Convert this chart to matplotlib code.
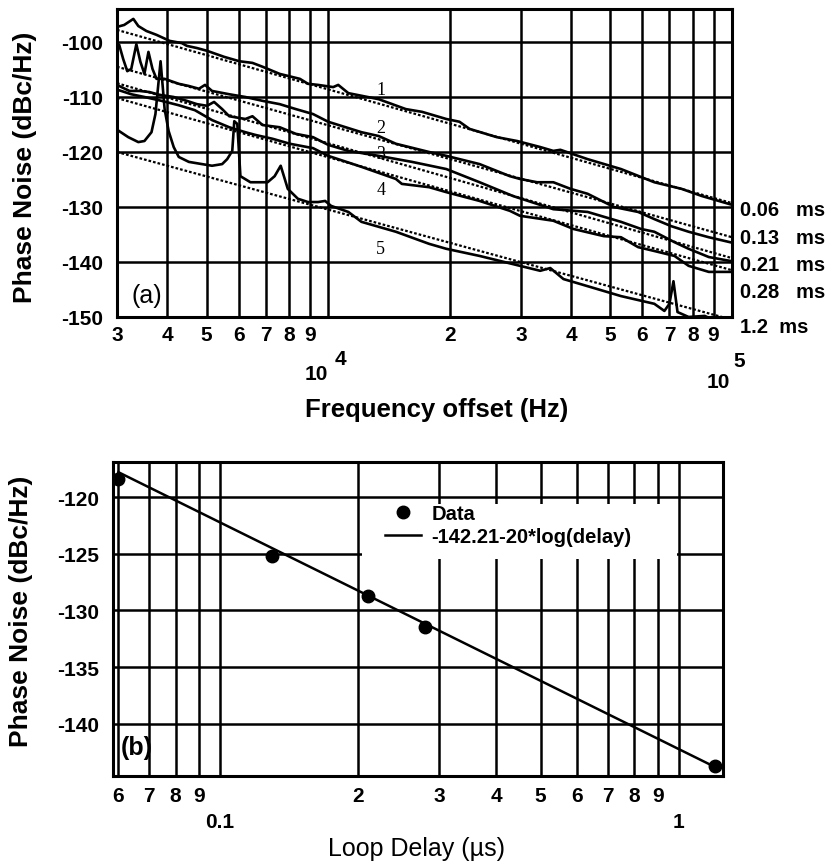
import matplotlib
matplotlib.use('Agg')
import matplotlib.pyplot as plt
from matplotlib.patches import Rectangle

c1_freq = [2985, 3126, 3293, 3388, 3548, 3758, 4051, 4341, 4467, 4732, 5012, 5527, 6026, 6494, 6879,
           7586, 8511, 8913, 9441, 10290, 10590, 11220, 13340, 15570, 17080, 19610, 21140, 22390,
           26150, 29350, 33500, 36100, 37580, 43900, 53090, 64200, 74990, 84140, 98860]
c1_db = [-97.3, -96.9, -95.8, -97.1, -98.0, -98.7, -99.8, -100.2, -100.7, -101.1, -101.6, -102.7,
         -103.5, -103.8, -104.5, -105.8, -106.7, -107.6, -107.8, -108.2, -107.8, -109.3, -110.4,
         -112.2, -112.7, -114.0, -114.5, -115.8, -117.3, -118.0, -119.1, -119.8, -119.6, -121.3,
         -123.1, -125.5, -126.7, -128.0, -129.5]

c2_freq = [2951, 3037, 3108, 3181, 3254, 3350, 3428, 3508, 3589, 3673, 3758, 3936, 4266, 4519, 4786,
           4955, 5158, 5689, 6237, 6879, 7586, 8318, 9173, 10000, 12090, 13340, 14710, 17780, 19610,
           23710, 28180, 29850, 32920, 36100, 39810, 43900, 51000, 58550, 64200, 70800, 78070,
           87600, 98860]
c2_db = [-103.1, -100.5, -103.1, -105.3, -104.9, -100.4, -103.6, -105.8, -101.8, -104.9, -106.7,
         -106.7, -107.6, -108.0, -108.5, -107.8, -108.9, -109.5, -110.0, -110.7, -111.3, -112.2,
         -113.1, -114.5, -116.4, -117.1, -118.5, -120.0, -120.7, -122.2, -124.4, -124.9, -125.5,
         -125.5, -126.7, -127.6, -130.0, -130.9, -132.2, -133.5, -134.5, -135.5, -136.4]

c3_freq = [2951, 3037, 3221, 3409, 3610, 3823, 4145, 4467, 4732, 5012, 5218, 5464, 5689, 6237, 6494,
           6879, 7586, 8318, 9173, 10000, 11220, 13340, 16130, 19610, 23710, 28670, 36100, 43900,
           53090, 59570, 64200, 72030, 78070, 87600, 98860]
c3_db = [-107.6, -108.0, -108.9, -108.9, -109.1, -109.6, -110.0, -110.7, -111.3, -111.6, -110.9,
         -112.2, -113.5, -114.0, -113.5, -115.1, -115.5, -116.7, -117.3, -118.7, -119.8, -120.7,
         -121.8, -123.1, -125.5, -128.0, -130.4, -130.9, -132.7, -134.0, -134.5, -136.4, -137.6,
         -139.1, -139.8]

c4_freq = [2951, 3073, 3254, 3508, 3868, 4266, 4677, 5158, 5689, 6237, 6607, 7286, 8035, 9173, 10000,
           12090, 14710, 15220, 17780, 19610, 23710, 28180, 29850, 36100, 40510, 48140, 53090,
           58550, 64200, 72030, 78070, 87600, 98860]
c4_db = [-108.5, -108.9, -109.5, -110.0, -110.7, -111.5, -112.4, -114.2, -115.5, -116.4, -116.9,
         -117.6, -118.5, -119.3, -120.7, -122.7, -124.9, -125.8, -126.4, -127.3, -128.9, -130.7,
         -131.6, -132.5, -134.0, -135.3, -135.5, -137.3, -138.0, -138.9, -140.7, -141.8, -141.8]

c5_freq = [3037, 3199, 3388, 3508, 3652, 3735, 3846, 3936, 4027, 4145, 4266, 4519, 4870, 5158, 5464,
           5623, 5788, 5855, 5957, 6063, 6420, 7079, 7370, 7629, 7943, 8414, 8913, 9441, 9829, 10170,
           11220, 12090, 14710, 17780, 19610, 23710, 26610, 29850, 33500, 35480, 38240, 43900,
           53090, 64200, 68000, 69980, 71610, 73280, 78070, 85610, 90680, 98860]
c5_db = [-116.2, -117.3, -118.2, -118.0, -116.4, -113.1, -103.5, -112.2, -116.2, -119.1, -120.9,
         -121.8, -122.2, -122.5, -122.2, -121.3, -119.8, -114.4, -114.9, -124.4, -125.5, -125.5,
         -124.4, -122.5, -126.7, -128.5, -129.1, -129.1, -128.9, -129.8, -130.9, -132.7, -134.5,
         -136.7, -137.6, -138.9, -139.8, -140.7, -141.6, -141.1, -143.1, -144.4, -146.2, -147.6,
         -148.9, -147.6, -143.5, -149.1, -150.0, -149.8, -150.7, -150.9]

# dotted straight fits (end points)
fit_freq = [3000, 100000]
fit1_db = [-97.8, -129.3]
fit2_db = [-104.5, -135.5]
fit3_db = [-107.5, -139.3]
fit4_db = [-110.2, -141.5]
fit5_db = [-120.0, -150.5]

delay_labels = ['0.06   ms', '0.13   ms', '0.21   ms', '0.28   ms', '1.2  ms']
delay_label_db = [-130.4, -135.6, -140.5, -145.3, -151.8]
curve_numbers = ['1', '2', '3', '4', '5']
curve_number_db = [-108.7, -115.6, -120.2, -126.9, -137.5]

a_minor_ticks = [3000, 4000, 5000, 6000, 7000, 8000, 9000,
                 20000, 30000, 40000, 50000, 60000, 70000, 80000, 90000]
a_minor_labels = ['3', '4', '5', '6', '7', '8', '9', '2', '3', '4', '5', '6', '7', '8', '9']
a_yticks = [-100, -110, -120, -130, -140, -150]

# ---- panel (b): phase noise vs loop delay ----
delay = [0.06, 0.13, 0.21, 0.28, 1.2]
noise = [-118.4, -125.2, -128.7, -131.5, -143.7]
fit_delay = [0.06, 1.2]
fit_noise = [-117.8, -143.8]

b_minor_ticks = [0.06, 0.07, 0.08, 0.09, 0.2, 0.3, 0.4, 0.5, 0.6, 0.7, 0.8, 0.9]
b_minor_labels = ['6', '7', '8', '9', '2', '3', '4', '5', '6', '7', '8', '9']
b_yticks = [-120, -125, -130, -135, -140]

plt.rcParams['font.family'] = ['Liberation Sans', 'DejaVu Sans']
GRID_LW = 1.8
TICK_FS = 15


def style_axes(ax):
    ax.grid(True, which='both', color='black', lw=GRID_LW)
    ax.tick_params(which='both', length=0)
    for sp in ax.spines.values():
        sp.set_linewidth(2.2)


def plot_panel_a(ax):
    curves = [(c1_freq, c1_db), (c2_freq, c2_db), (c3_freq, c3_db),
              (c4_freq, c4_db), (c5_freq, c5_db)]
    for fdb in [fit1_db, fit2_db, fit3_db, fit4_db, fit5_db]:
        ax.plot(fit_freq, fdb, color='black', lw=1.6, ls=(0, (1.2, 0.9)), zorder=3)
    for f, d in curves:
        ax.plot(f, d, color='black', lw=1.9, zorder=4)

    ax.set_xscale('log')
    ax.set_xlim(3000, 100000)
    ax.set_ylim(-150, -94)
    ax.set_xticks([10000, 100000], labels=['', ''])
    ax.set_xticks(a_minor_ticks, labels=a_minor_labels, minor=True,
                  fontsize=TICK_FS, fontweight='bold')
    ax.set_yticks(a_yticks, labels=[str(v) for v in a_yticks], fontsize=TICK_FS, fontweight='bold')
    style_axes(ax)
    ax.tick_params(axis='x', which='minor', pad=6)
    ax.tick_params(axis='y', pad=10)

    # decade labels 10^4 and 10^5
    tr = ax.get_xaxis_transform()
    ax.text(10000, -0.185, '10', transform=tr, ha='right', va='center', fontsize=TICK_FS, fontweight='bold')
    ax.text(10400, -0.136, '4', transform=tr, ha='left', va='center', fontsize=TICK_FS, fontweight='bold')
    ax.text(99000, -0.208, '10', transform=tr, ha='right', va='center', fontsize=TICK_FS, fontweight='bold')
    ax.text(101000, -0.140, '5', transform=tr, ha='left', va='center', fontsize=TICK_FS, fontweight='bold')

    ytr = ax.get_yaxis_transform()
    for lab, y in zip(delay_labels, delay_label_db):
        ax.text(1.013, y, lab, transform=ytr, ha='left', va='center', fontsize=14.5, fontweight='bold')
    for lab, y in zip(curve_numbers, curve_number_db):
        ax.text(13500, y, lab, ha='center', va='center', fontsize=13,
                family='Liberation Serif', zorder=6)

    ax.text(0.024, 0.071, '(a)', transform=ax.transAxes, ha='left', va='center', fontsize=18)
    ax.set_xlabel('Frequency offset (Hz)', fontsize=18.5, fontweight='bold')
    ax.xaxis.set_label_coords(0.519, -0.26)
    ax.set_ylabel('Phase Noise (dBc/Hz)', fontsize=19, fontweight='bold')
    ax.yaxis.set_label_coords(-0.130, 0.489)


def plot_panel_b(ax):
    line, = ax.plot(fit_delay, fit_noise, color='black', lw=1.8, zorder=4)
    pts, = ax.plot(delay, noise, 'o', color='black', ms=9, zorder=5)

    ax.set_xscale('log')
    ax.set_xlim(0.0584, 1.25)
    ax.set_ylim(-144.6, -116.9)
    ax.set_xticks([0.1, 1], labels=['0.1', '1'], fontsize=TICK_FS, fontweight='bold')
    ax.set_xticks(b_minor_ticks, labels=b_minor_labels, minor=True,
                  fontsize=TICK_FS, fontweight='bold')
    ax.set_yticks(b_yticks, labels=[str(v) for v in b_yticks], fontsize=TICK_FS, fontweight='bold')
    style_axes(ax)
    ax.tick_params(axis='x', which='minor', pad=7)
    ax.tick_params(axis='x', which='major', pad=26)
    ax.tick_params(axis='y', pad=10)

    # white patch behind legend (hides grid lines as in the original)
    ax.add_patch(Rectangle((0.408, 0.691), 0.517, 0.175, transform=ax.transAxes,
                           facecolor='white', edgecolor='none', zorder=3.5))
    ax.legend([pts, line], ['Data', '-142.21-20*log(delay)'], loc='upper left',
              bbox_to_anchor=(0.446, 0.865), frameon=False, borderaxespad=0, borderpad=0,
              handlelength=1.8, handletextpad=0.5, labelspacing=0.2,
              prop={'weight': 'bold', 'size': 14.5})

    ax.text(0.012, 0.092, '(b)', transform=ax.transAxes, ha='left', va='center',
            fontsize=18, fontweight='bold')
    ax.set_xlabel('Loop Delay (\u00b5s)', fontsize=18)
    ax.xaxis.set_label_coords(0.498, -0.191)
    ax.set_ylabel('Phase Noise (dBc/Hz)', fontsize=19, fontweight='bold')
    ax.yaxis.set_label_coords(-0.131, 0.529)


def main():
    fig = plt.figure(figsize=(8.28, 8.62), dpi=100)
    ax_a = fig.add_axes([0.1413, 0.6311, 0.7428, 0.3573])
    ax_b = fig.add_axes([0.1365, 0.0986, 0.7367, 0.3643])
    plot_panel_a(ax_a)
    plot_panel_b(ax_b)
    fig.savefig('out.png', dpi=100)


if __name__ == '__main__':
    main()
